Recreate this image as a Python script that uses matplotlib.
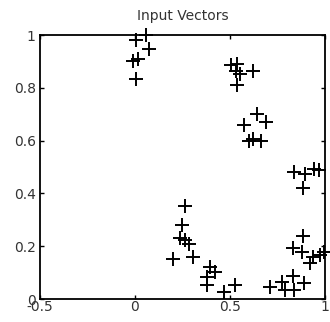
import matplotlib
matplotlib.use('Agg')
import matplotlib.pyplot as plt

# input vectors
xs = [0.056, 0.004, 0.074, 0.018, -0.012, 0.005,
      0.507, 0.535, 0.530, 0.551, 0.535, 0.623,
      0.644, 0.689, 0.574, 0.602, 0.623, 0.663,
      0.835, 0.896, 0.943, 0.970, 0.885,
      0.263, 0.250, 0.235, 0.265, 0.285, 0.202, 0.307,
      0.395, 0.421, 0.380, 0.380, 0.469, 0.528,
      0.711, 0.772, 0.789, 0.833, 0.837, 0.889,
      0.886, 0.833, 0.877, 0.921, 0.939, 0.974, 0.995]
ys = [1.000, 0.982, 0.947, 0.909, 0.900, 0.833,
      0.885, 0.892, 0.864, 0.853, 0.812, 0.865,
      0.700, 0.672, 0.658, 0.600, 0.606, 0.598,
      0.482, 0.475, 0.492, 0.488, 0.420,
      0.354, 0.281, 0.233, 0.222, 0.207, 0.150, 0.158,
      0.123, 0.104, 0.084, 0.052, 0.026, 0.053,
      0.044, 0.066, 0.034, 0.087, 0.034, 0.059,
      0.240, 0.194, 0.177, 0.135, 0.158, 0.167, 0.179]

xticks = [-0.5, 0, 0.5, 1]
xticklabels = ['-0.5', '0', '0.5', '1']
yticks = [0, 0.2, 0.4, 0.6, 0.8, 1]
yticklabels = ['0', '0.2', '0.4', '0.6', '0.8', '1']

plt.rcParams['font.family'] = ['DejaVu Sans']
fig = plt.figure(figsize=(3.3, 3.22), dpi=100)
ax = fig.add_axes([0.121, 0.0714, 0.864, 0.8196])

ax.plot(xs, ys, '+', color='k', markersize=9.5, mew=1.4, clip_on=False)

ax.set_xlim(-0.5, 1)
ax.set_ylim(0, 1)
ax.set_xticks(xticks)
ax.set_xticklabels(xticklabels)
ax.set_yticks(yticks)
ax.set_yticklabels(yticklabels)
ax.tick_params(direction='in', top=True, right=True, length=3, width=1,
               labelsize=10, colors='k')
ax.tick_params(axis='x', pad=1)
ax.tick_params(axis='y', pad=3)
ax.tick_params(labelcolor='#333333')
for s in ax.spines.values():
    s.set_linewidth(1.3)
ax.set_title('Input Vectors', fontsize=10, pad=11, color='#333333')

fig.savefig('out.png', dpi=100)
